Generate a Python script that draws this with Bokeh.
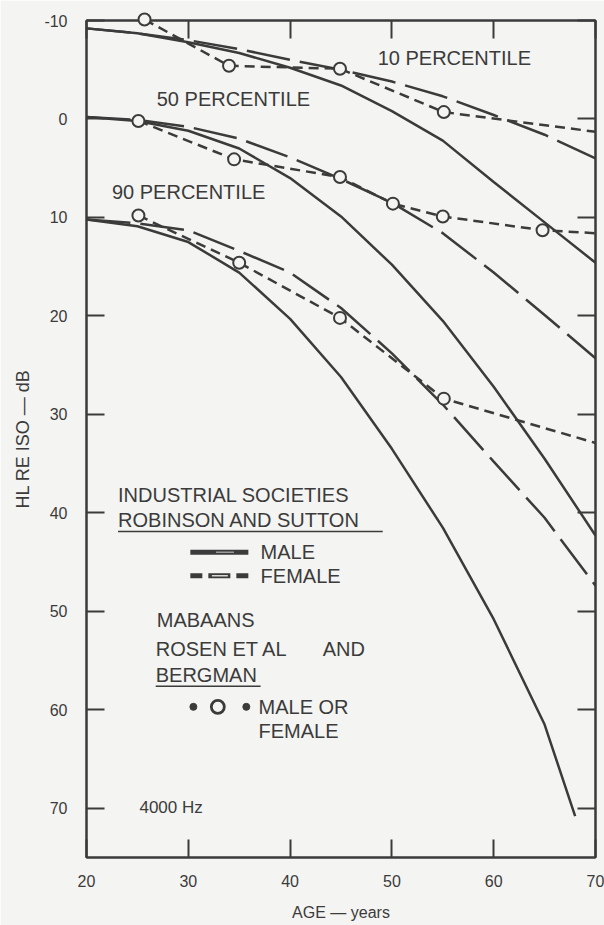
from bokeh.plotting import figure
from bokeh.models import Range1d, FixedTicker, LinearAxis, Label
from bokeh.embed import file_html
from bokeh.resources import INLINE

# ---------------- data ----------------
# Robinson and Sutton, industrial societies (HL re ISO, dB) vs age
rs_age = [20, 25, 30, 35, 40, 45, 50, 55, 60, 65, 70]
male_p10 = [-9.2, -8.7, -7.8, -6.7, -5.2, -3.4, -0.8, 2.2, 6.4, 10.5, 14.6]
female_p10 = [-9.2, -8.7, -8.0, -7.1, -6.0, -5.0, -3.8, -2.3, -0.4, 1.6, 4.0]
male_p50 = [-0.2, 0.2, 1.2, 3.0, 6.0, 9.9, 14.8, 20.5, 27.2, 34.5, 42.3]
female_p50 = [-0.2, 0.1, 0.8, 2.0, 3.9, 6.1, 8.5, 11.6, 15.6, 19.9, 24.3]
male_p90_age = [20, 25, 30, 35, 40, 45, 50, 55, 60, 65, 68]
male_p90 = [10.2, 10.9, 12.5, 15.6, 20.3, 26.2, 33.5, 41.5, 50.8, 61.5, 70.8]
female_p90 = [10.2, 10.6, 11.3, 13.4, 15.6, 19.2, 23.8, 29.0, 34.8, 40.5, 47.4]

# Mabaans (Rosen et al and Bergman), male or female
mab_p10_age = [25.7, 34.0, 44.9, 55.1]
mab_p10 = [-10.1, -5.4, -5.1, -0.7]
mab_p50_age = [25.1, 34.5, 44.9, 50.1, 55.0, 64.8]
mab_p50 = [0.2, 4.1, 5.9, 8.6, 9.9, 11.3]
mab_p90_age = [25.1, 35.0, 44.9, 55.1]
mab_p90 = [9.8, 14.6, 20.2, 28.4]
# dashed continuation of each Mabaan curve to the right edge
mab_tail_age = 70
mab_tail = [1.3, 11.6, 32.9]  # p10, p50, p90

x_ticks = [20, 30, 40, 50, 60, 70]
y_ticks = [-10, 0, 10, 20, 30, 40, 50, 60, 70]

# ---------------- style ----------------
BG = "#f4f4f2"
INK = "#3b3b3b"
FONT = "Liberation Sans"

p = figure(width=604, height=925,
           x_range=Range1d(20, 70), y_range=Range1d(75, -10),
           output_backend="svg", toolbar_location=None,
           min_border_left=86, min_border_right=9,
           min_border_top=20, min_border_bottom=68,
           background_fill_color=BG, border_fill_color=BG)
p.grid.visible = False
p.outline_line_color = INK
p.outline_line_width = 2


def style_axis(ax, ticks, labels=True):
    ax.ticker = FixedTicker(ticks=ticks)
    ax.major_tick_in = 18
    ax.major_tick_out = 0
    ax.minor_tick_line_color = None
    ax.major_tick_line_color = INK
    ax.major_tick_line_width = 2
    ax.axis_line_color = INK
    ax.axis_line_width = 2
    ax.major_label_text_font = FONT
    ax.major_label_text_color = INK
    ax.major_label_text_font_size = "16px"
    ax.axis_label_text_font = FONT
    ax.axis_label_text_font_style = "normal"
    ax.axis_label_text_color = INK
    ax.axis_label_text_font_size = "16px"
    if not labels:
        ax.major_label_overrides = {t: "" for t in ticks}
        ax.major_label_text_font_size = "0px"
        ax.major_label_standoff = 0


xa = p.xaxis[0]
style_axis(xa, x_ticks)
xa.major_label_standoff = 17
xa.axis_label = "AGE \u2014 years"
xa.axis_label_standoff = 14

ya = p.yaxis[0]
style_axis(ya, y_ticks)
ya.major_label_standoff = 19
ya.major_label_overrides = {-10: "-10"}
ya.axis_label = "HL RE ISO \u2014 dB"
ya.axis_label_standoff = 8
ya.axis_label_text_font_size = "18px"

right = LinearAxis()
style_axis(right, y_ticks, labels=False)
p.add_layout(right, "right")
top = LinearAxis()
style_axis(top, x_ticks, labels=False)
p.add_layout(top, "above")

# ---------------- curves ----------------
LW = 2.5
for ages, vals in [(rs_age, male_p10), (rs_age, male_p50), (male_p90_age, male_p90)]:
    p.line(ages, vals, line_width=LW, line_color=INK)
for vals in [female_p10, female_p50, female_p90]:
    p.line(rs_age, vals, line_width=LW, line_color=INK, line_dash="44 10")

for (ages, vals), tail in zip([(mab_p10_age, mab_p10), (mab_p50_age, mab_p50),
                               (mab_p90_age, mab_p90)], mab_tail):
    p.line(ages + [mab_tail_age], vals + [tail], line_width=LW, line_color=INK,
           line_dash="10 6")
    p.scatter(ages, vals, marker="circle", size=12, fill_color=BG, line_color=INK,
              line_width=2, level="overlay")

# ---------------- text ----------------
def txt(x, y, s, size="20px"):
    p.add_layout(Label(x=x, y=y, text=s, text_font=FONT, text_font_size=size,
                       text_color=INK, text_align="left", text_baseline="middle"))


txt(48.6, -6.2, "10 PERCENTILE")
txt(26.9, -2.0, "50 PERCENTILE")
txt(22.5, 7.4, "90 PERCENTILE")

txt(23.1, 38.2, "INDUSTRIAL SOCIETIES")
txt(23.1, 40.7, "ROBINSON AND SUTTON")
p.line([23.1, 49.1], [41.9, 41.9], line_width=1.5, line_color=INK)
# legend swatches
p.line([30.2, 35.9], [44.0, 44.0], line_width=5, line_color=INK)
p.rect([33.6], [44.0], width=18, height=1.5, width_units="screen",
       height_units="screen", fill_color="#9a9a9a", line_color=None)
txt(37.1, 44.0, "MALE")
p.line([30.2, 35.9], [46.4, 46.4], line_width=5, line_color=INK, line_dash="12 6 22 6")
p.rect([33.1], [46.4], width=16, height=1.5, width_units="screen",
       height_units="screen", fill_color="#d8d8d6", line_color=None)
txt(37.1, 46.4, "FEMALE")

txt(26.9, 50.9, "MABAANS")
txt(26.8, 53.8, "ROSEN ET AL")
txt(43.2, 53.8, "AND")
txt(26.8, 56.5, "BERGMAN")
p.line([26.8, 37.1], [57.6, 57.6], line_width=1.5, line_color=INK)
p.scatter([30.5, 35.7], [59.7, 59.7], marker="circle", size=7, fill_color=INK,
          line_color=INK)
p.scatter([32.9], [59.7], marker="circle", size=13, fill_color=BG, line_color=INK,
          line_width=2.8)
txt(36.9, 59.7, "MALE OR")
txt(36.9, 62.2, "FEMALE")

txt(25.2, 69.9, "4000 Hz", size="17px")

open("out.html", "w").write(file_html(p, INLINE))
